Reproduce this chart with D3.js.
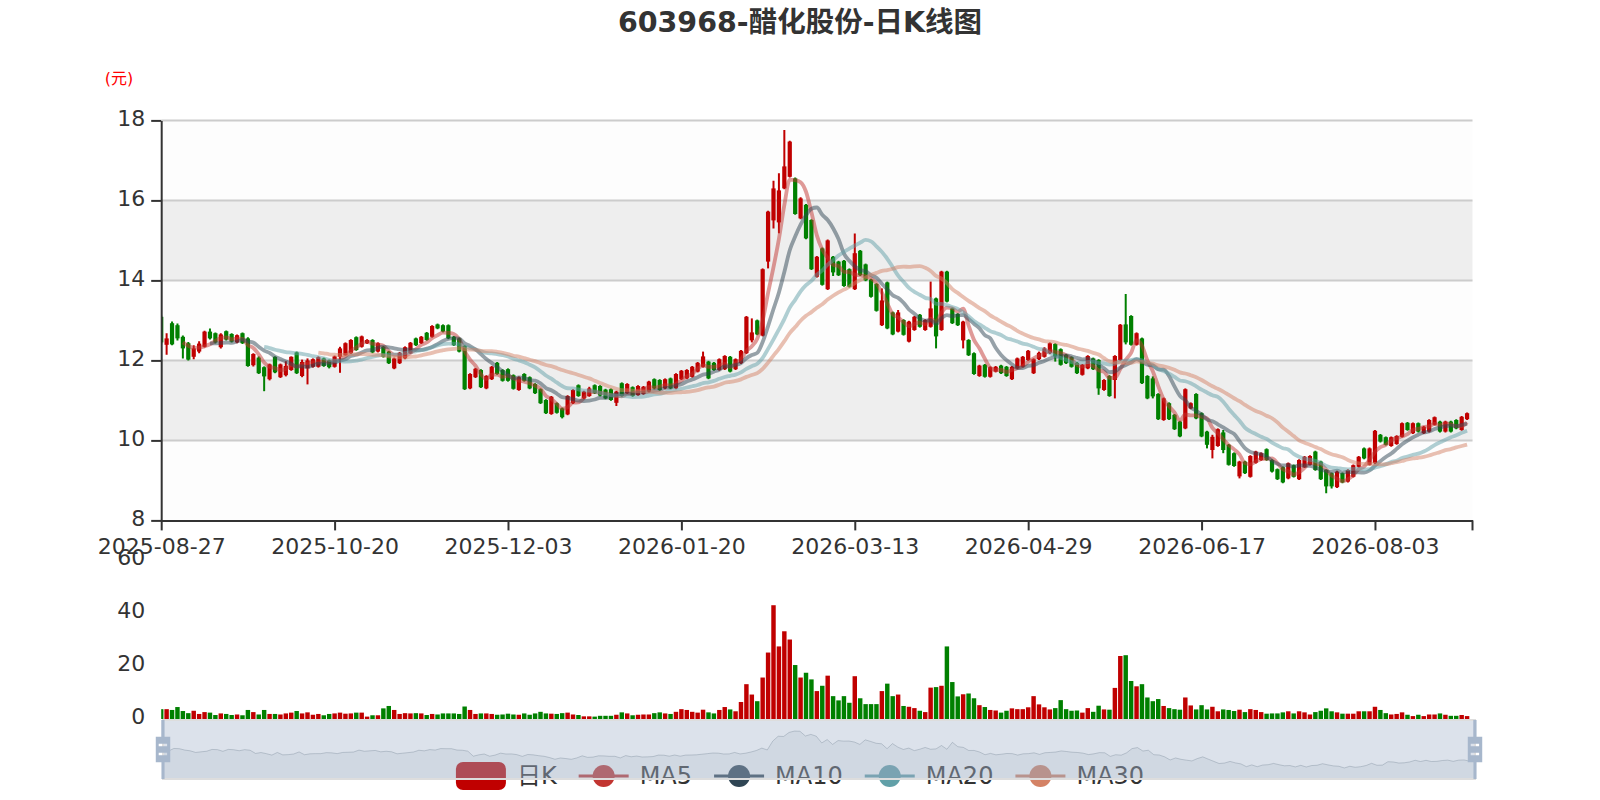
<!DOCTYPE html>
<html><head><meta charset="utf-8">
<script src="https://cdn.jsdelivr.net/npm/d3@7"></script>
<style>
body{margin:0;background:#fff;}
svg{display:block;}
text{font-family:"DejaVu Sans","Noto Sans CJK SC",sans-serif;}
</style>
</head><body>
<svg id="c" width="1600" height="800"></svg>
<script>
const titleText = '603968-醋化股份-日K线图';
const unitText = '(元)';
const dates = [
'2025-08-27','2025-08-28','2025-08-29',
'2025-09-01','2025-09-02','2025-09-03','2025-09-04','2025-09-05',
'2025-09-08','2025-09-09','2025-09-10','2025-09-11','2025-09-12',
'2025-09-15','2025-09-16','2025-09-17','2025-09-18','2025-09-19',
'2025-09-22','2025-09-23','2025-09-24','2025-09-25','2025-09-26',
'2025-09-29','2025-09-30',
'2025-10-09','2025-10-10',
'2025-10-13','2025-10-14','2025-10-15','2025-10-16','2025-10-17',
'2025-10-20','2025-10-21','2025-10-22','2025-10-23','2025-10-24',
'2025-10-27','2025-10-28','2025-10-29','2025-10-30','2025-10-31',
'2025-11-03','2025-11-04','2025-11-05','2025-11-06','2025-11-07',
'2025-11-10','2025-11-11','2025-11-12','2025-11-13','2025-11-14',
'2025-11-17','2025-11-18','2025-11-19','2025-11-20','2025-11-21',
'2025-11-24','2025-11-25','2025-11-26','2025-11-27','2025-11-28',
'2025-12-01','2025-12-02','2025-12-03','2025-12-04','2025-12-05',
'2025-12-08','2025-12-09','2025-12-10','2025-12-11','2025-12-12',
'2025-12-15','2025-12-16','2025-12-17','2025-12-18','2025-12-19',
'2025-12-22','2025-12-23','2025-12-24','2025-12-25','2025-12-26',
'2025-12-29','2025-12-30','2025-12-31',
'2026-01-05','2026-01-06','2026-01-07','2026-01-08','2026-01-09',
'2026-01-12','2026-01-13','2026-01-14','2026-01-15','2026-01-16',
'2026-01-19','2026-01-20','2026-01-21','2026-01-22','2026-01-23',
'2026-01-26','2026-01-27','2026-01-28','2026-01-29','2026-01-30',
'2026-02-02','2026-02-03','2026-02-04','2026-02-05','2026-02-06',
'2026-02-09','2026-02-10','2026-02-11','2026-02-12','2026-02-13',
'2026-02-24','2026-02-25','2026-02-26','2026-02-27',
'2026-03-02','2026-03-03','2026-03-04','2026-03-05','2026-03-06',
'2026-03-09','2026-03-10','2026-03-11','2026-03-12','2026-03-13',
'2026-03-16','2026-03-17','2026-03-18','2026-03-19','2026-03-20',
'2026-03-23','2026-03-24','2026-03-25','2026-03-26','2026-03-27',
'2026-03-30','2026-03-31',
'2026-04-01','2026-04-02','2026-04-03',
'2026-04-07','2026-04-08','2026-04-09','2026-04-10',
'2026-04-13','2026-04-14','2026-04-15','2026-04-16','2026-04-17',
'2026-04-20','2026-04-21','2026-04-22','2026-04-23','2026-04-24',
'2026-04-27','2026-04-28','2026-04-29','2026-04-30',
'2026-05-06','2026-05-07','2026-05-08',
'2026-05-11','2026-05-12','2026-05-13','2026-05-14','2026-05-15',
'2026-05-18','2026-05-19','2026-05-20','2026-05-21','2026-05-22',
'2026-05-25','2026-05-26','2026-05-27','2026-05-28','2026-05-29',
'2026-06-01','2026-06-02','2026-06-03','2026-06-04','2026-06-05',
'2026-06-08','2026-06-09','2026-06-10','2026-06-11','2026-06-12',
'2026-06-15','2026-06-16','2026-06-17','2026-06-18',
'2026-06-22','2026-06-23','2026-06-24','2026-06-25','2026-06-26',
'2026-06-29','2026-06-30',
'2026-07-01','2026-07-02','2026-07-03',
'2026-07-06','2026-07-07','2026-07-08','2026-07-09','2026-07-10',
'2026-07-13','2026-07-14','2026-07-15','2026-07-16','2026-07-17',
'2026-07-20','2026-07-21','2026-07-22','2026-07-23','2026-07-24',
'2026-07-27','2026-07-28','2026-07-29','2026-07-30','2026-07-31',
'2026-08-03','2026-08-04','2026-08-05','2026-08-06','2026-08-07',
'2026-08-10','2026-08-11','2026-08-12','2026-08-13','2026-08-14',
'2026-08-17','2026-08-18','2026-08-19','2026-08-20','2026-08-21',
'2026-08-24','2026-08-25','2026-08-26','2026-08-27'
];
const openP = [
13.09,12.39,12.93,12.88,12.59,12.43,12.09,12.22,12.34,12.72,
12.68,12.33,12.73,12.66,12.45,12.68,12.55,11.88,12.07,11.83,
11.53,12.09,11.58,11.63,11.76,12.20,11.61,11.80,11.84,11.84,
12.05,12.00,11.84,12.09,12.13,12.18,12.58,12.34,12.43,12.51,
12.22,12.34,12.22,11.80,11.93,12.05,12.18,12.55,12.43,12.69,
12.59,12.90,12.88,12.88,12.59,12.55,12.36,11.30,11.58,11.76,
11.30,11.53,11.94,11.76,11.78,11.63,11.26,11.66,11.58,11.41,
11.28,11.01,10.66,10.93,10.80,10.65,10.93,11.38,11.05,11.11,
11.38,11.36,11.27,11.28,10.94,11.43,11.18,11.33,11.13,11.16,
11.22,11.53,11.51,11.30,11.55,11.30,11.53,11.55,11.59,11.72,
11.84,11.97,11.94,11.76,11.78,12.09,11.78,11.93,12.18,12.50,
13.00,12.62,14.47,15.50,15.45,16.30,16.59,16.55,15.55,15.89,
15.51,14.09,14.80,13.78,14.59,14.47,14.49,14.28,13.78,14.74,
14.40,14.02,13.91,12.88,13.95,13.20,12.72,13.01,12.47,12.76,
13.14,12.76,12.84,13.55,12.76,14.22,13.30,13.16,12.50,12.51,
12.18,11.61,11.89,11.59,11.72,11.87,11.84,11.53,11.80,11.84,
12.01,11.68,12.03,12.09,12.18,12.41,12.28,12.14,12.08,11.94,
11.64,11.80,12.05,12.01,11.26,11.61,11.51,12.01,12.90,13.11,
12.39,12.55,11.61,11.55,11.16,10.51,10.93,10.64,10.47,10.30,
10.80,11.16,10.68,10.22,9.76,9.86,10.20,9.89,9.68,9.10,
9.47,9.09,9.44,9.51,9.78,9.51,9.28,9.33,9.05,9.38,
9.03,9.33,9.39,9.72,9.47,9.26,9.18,8.83,9.18,8.97,
9.09,9.34,9.80,9.39,9.43,10.14,10.08,9.86,9.91,10.09,
10.44,10.18,10.43,10.18,10.22,10.39,10.47,10.22,10.47,10.51,
10.26,10.53
];
const closeP = [
12.45,12.55,12.40,12.55,12.30,12.02,12.30,12.42,12.72,12.55,
12.45,12.65,12.52,12.47,12.63,12.43,11.86,12.16,11.68,11.60,
11.90,11.70,11.90,11.86,12.09,11.68,11.96,12.00,12.03,12.08,
11.86,11.83,12.10,12.30,12.43,12.51,12.26,12.60,12.51,12.20,
12.43,12.09,11.93,12.05,12.19,12.33,12.44,12.38,12.59,12.51,
12.86,12.80,12.72,12.55,12.38,12.22,11.28,11.66,11.79,11.33,
11.61,11.84,11.66,11.49,11.49,11.29,11.58,11.49,11.30,11.18,
10.93,10.68,11.09,10.69,10.58,11.11,11.26,11.11,11.22,11.30,
11.18,11.12,11.05,11.01,11.22,11.11,11.41,11.11,11.36,11.34,
11.47,11.30,11.26,11.53,11.30,11.66,11.74,11.76,11.84,11.94,
12.10,11.55,11.76,12.03,12.11,11.72,12.03,12.24,13.09,12.70,
12.65,14.28,15.72,16.30,16.25,16.85,17.47,15.66,16.05,15.05,
14.28,14.59,13.89,15.00,14.20,14.13,13.86,13.84,14.68,14.13,
14.00,13.59,13.24,13.50,12.80,12.65,13.20,12.64,12.97,13.09,
12.84,13.01,13.30,12.60,14.22,13.47,12.93,12.88,12.97,12.13,
11.66,11.87,11.59,11.83,11.84,11.68,11.61,11.84,12.05,12.09,
12.24,12.03,12.19,12.30,12.43,12.10,11.89,11.93,11.84,11.68,
11.89,12.11,11.78,11.30,11.51,11.11,12.11,12.89,12.45,12.39,
12.68,11.43,11.05,11.10,10.53,11.05,10.53,10.28,10.10,11.28,
10.93,10.55,10.10,9.89,10.09,10.28,9.76,9.39,9.36,9.47,
9.18,9.61,9.72,9.68,9.51,9.22,9.03,8.95,9.43,9.09,
9.51,9.59,9.61,9.26,9.03,8.85,8.85,9.22,8.95,9.26,
9.38,9.59,9.55,9.80,10.24,9.97,9.89,10.08,10.11,10.43,
10.26,10.43,10.22,10.34,10.51,10.58,10.22,10.47,10.22,10.30,
10.59,10.68
];
const lowP = [
12.40,12.14,12.38,12.50,12.05,12.00,12.03,12.18,12.32,12.52,
12.42,12.30,12.50,12.45,12.43,12.41,11.84,11.85,11.66,11.23,
11.50,11.68,11.56,11.60,11.74,11.66,11.58,11.40,11.82,11.82,
11.84,11.80,11.82,11.69,12.12,12.16,12.24,12.32,12.41,12.18,
12.20,12.07,11.91,11.78,11.91,12.03,12.16,12.36,12.41,12.49,
12.57,12.78,12.70,12.53,12.36,12.20,11.26,11.28,11.56,11.31,
11.28,11.51,11.64,11.47,11.47,11.27,11.24,11.47,11.28,11.16,
10.91,10.66,10.64,10.67,10.55,10.63,10.91,11.09,11.03,11.09,
11.16,11.10,11.03,10.99,10.86,11.09,11.16,11.09,11.11,11.14,
11.20,11.28,11.24,11.28,11.28,11.28,11.51,11.53,11.57,11.70,
11.82,11.53,11.74,11.74,11.76,11.70,11.76,11.91,12.16,12.45,
12.63,12.60,14.30,15.30,15.18,16.28,16.57,15.64,15.53,15.03,
14.26,14.07,13.87,13.76,14.11,14.11,13.84,13.82,13.76,14.11,
13.98,13.57,13.22,12.86,12.78,12.63,12.70,12.62,12.45,12.74,
12.82,12.74,12.82,12.30,12.74,13.45,12.91,12.86,12.30,12.11,
11.64,11.59,11.57,11.57,11.70,11.66,11.59,11.51,11.78,11.82,
11.99,11.66,12.01,12.07,12.16,11.97,11.87,11.91,11.82,11.66,
11.62,11.78,11.76,11.14,11.24,11.09,11.05,11.99,12.40,12.37,
12.37,11.41,11.03,11.05,10.51,10.49,10.51,10.26,10.08,10.28,
10.78,10.53,10.08,9.80,9.55,9.84,9.68,9.37,9.34,9.05,
9.16,9.07,9.42,9.49,9.49,9.20,9.01,8.93,9.03,9.07,
9.01,9.31,9.37,9.24,9.01,8.68,8.80,8.81,8.93,8.95,
9.07,9.32,9.53,9.37,9.41,9.95,9.87,9.84,9.89,10.07,
10.24,10.16,10.20,10.16,10.20,10.37,10.20,10.20,10.20,10.28,
10.24,10.51
];
const highP = [
13.12,12.68,12.97,12.92,12.62,12.46,12.38,12.48,12.74,12.80,
12.70,12.68,12.75,12.68,12.65,12.70,12.58,12.18,12.10,11.85,
11.92,12.10,11.92,11.98,12.10,12.22,12.02,12.05,12.05,12.10,
12.07,12.02,12.12,12.34,12.45,12.53,12.60,12.62,12.53,12.53,
12.45,12.36,12.24,12.07,12.21,12.35,12.46,12.57,12.61,12.71,
12.88,12.92,12.90,12.90,12.61,12.57,12.38,11.68,11.81,11.78,
11.63,11.86,11.96,11.78,11.80,11.65,11.60,11.68,11.60,11.43,
11.30,11.03,11.11,10.95,10.82,11.13,11.28,11.40,11.24,11.34,
11.40,11.38,11.29,11.30,11.24,11.45,11.43,11.35,11.38,11.36,
11.49,11.55,11.53,11.55,11.57,11.68,11.76,11.78,11.86,11.96,
12.22,11.99,11.96,12.05,12.13,12.11,12.05,12.26,13.11,13.05,
13.02,14.30,15.74,16.49,16.68,17.76,17.49,16.57,16.08,15.91,
15.53,14.61,14.82,15.02,14.61,14.49,14.51,14.30,15.17,14.76,
14.42,14.04,13.93,13.80,13.97,13.22,13.26,13.03,12.99,13.11,
13.16,13.03,13.97,13.57,14.24,14.24,13.32,13.18,12.99,12.53,
12.20,11.89,11.91,11.85,11.86,11.89,11.86,11.86,12.07,12.11,
12.26,12.05,12.22,12.33,12.45,12.43,12.30,12.16,12.10,11.96,
11.91,12.13,12.07,12.03,11.53,11.63,12.13,12.91,13.66,13.13,
12.70,12.57,11.63,11.60,11.18,11.07,10.95,10.66,10.49,11.30,
10.95,11.18,10.70,10.24,10.14,10.30,10.26,9.91,9.70,9.49,
9.49,9.63,9.74,9.70,9.80,9.53,9.30,9.35,9.45,9.40,
9.53,9.61,9.63,9.74,9.49,9.28,9.20,9.24,9.20,9.28,
9.40,9.61,9.82,9.82,10.26,10.16,10.10,10.10,10.13,10.45,
10.46,10.45,10.45,10.36,10.53,10.60,10.49,10.49,10.49,10.53,
10.61,10.70
];
const volume = [
3.7,3.7,3.4,4.5,3.0,2.2,3.1,1.9,2.6,2.4,
1.5,2.1,1.9,1.5,1.7,1.4,3.4,2.6,1.7,3.4,
1.9,1.9,1.7,2.1,2.4,3.0,2.1,2.5,1.6,1.9,
1.4,1.9,2.1,2.4,2.0,2.1,2.4,2.4,0.9,1.4,
1.4,4.0,4.9,3.4,1.9,2.2,2.1,2.2,2.1,1.5,
1.9,1.7,2.1,2.1,2.1,1.9,4.7,3.4,1.9,2.1,
2.1,1.9,1.6,1.7,2.0,1.7,1.6,2.1,1.6,2.1,
2.7,2.1,2.0,1.9,2.2,2.4,1.7,1.5,1.0,1.0,
0.9,1.2,1.2,1.2,1.6,2.5,2.1,1.4,1.6,1.7,
1.7,2.2,2.5,2.1,1.9,2.7,3.7,3.4,2.7,2.4,
3.5,2.5,2.1,3.4,4.5,3.6,2.9,6.4,13.1,9.2,
6.7,15.6,25.0,42.8,27.3,33.0,29.9,20.3,15.6,17.4,
14.9,10.5,12.5,16.3,8.6,7.0,8.6,6.1,16.1,7.8,
5.6,5.6,5.6,10.5,13.3,8.6,9.2,4.9,4.6,4.1,
3.1,2.6,11.8,12.0,12.5,27.3,13.9,8.5,9.3,9.6,
7.8,5.2,4.5,3.4,3.2,2.4,3.1,4.0,3.7,3.7,
4.4,8.6,5.5,4.4,3.6,4.1,7.1,3.7,3.1,3.2,
2.4,4.1,2.7,5.0,3.6,3.5,11.7,23.7,24.0,14.3,
12.3,13.1,8.1,6.7,7.5,4.9,4.1,3.7,3.5,8.1,
5.1,3.6,5.2,3.6,4.6,2.9,3.6,3.4,3.0,3.5,
2.6,3.7,3.4,2.6,2.0,2.1,2.1,2.5,2.9,2.1,
2.9,2.5,1.7,2.6,3.1,4.0,2.9,2.5,2.0,2.0,
2.0,2.9,2.9,2.9,4.6,3.4,2.2,1.7,1.9,2.5,
1.6,1.1,1.6,1.1,1.7,1.7,2.1,1.6,1.2,1.2,
1.5,1.1
];
const priceTicks = [8, 10, 12, 14, 16, 18];
const volumeTicks = [0, 20, 40, 60];
const labelIndex = [0, 32, 64, 96, 128, 160, 192, 224];
const maDays = [5, 10, 20, 30];
const maNames = ['MA5', 'MA10', 'MA20', 'MA30'];
const seriesName = '日K';

// ---------- styles / layout ----------
const upColor = '#c00000', downColor = '#008000';
const maColors = ['#c23531', '#2f4554', '#61a0a8', '#d48265'];
const FONT = '"DejaVu Sans","Noto Sans CJK SC",sans-serif';
const P = {l: 161.2, r: 1472.5, t: 120.4, b: 520.4};
const V = {t: 559.5, b: 719};
const S = {x0: 163, x1: 1475, y0: 720, h: 59};

const svg = d3.select('#c');
svg.append('rect').attr('width', 1600).attr('height', 800).attr('fill', '#fff');

const defs = svg.append('defs');
defs.append('clipPath').attr('id', 'clipP').append('rect')
  .attr('x', P.l).attr('y', P.t - 20).attr('width', P.r - P.l).attr('height', P.b - P.t + 20);
defs.append('clipPath').attr('id', 'clipV').append('rect')
  .attr('x', P.l).attr('y', V.t - 5).attr('width', P.r - P.l).attr('height', V.b - V.t + 5);

const x = d3.scalePoint().domain(dates).range([P.l, P.r]);
const y = d3.scaleLinear().domain([8, 18]).range([P.b, P.t]);
const yv = d3.scaleLinear().domain([0, 60]).range([V.b, V.t]);
const step = x.step();

// title
svg.append('text').attr('x', 800).attr('y', 22).attr('text-anchor', 'middle')
  .attr('dominant-baseline', 'central').attr('font-size', 28.5).attr('font-weight', 'bold')
  .attr('fill', '#333').text(titleText);
svg.append('text').attr('x', 119).attr('y', 78.5).attr('text-anchor', 'middle')
  .attr('dominant-baseline', 'central').attr('font-size', 16).attr('fill', '#ff0000').text(unitText);

// split areas and lines
const bands = d3.pairs(priceTicks);
svg.append('g').selectAll('rect').data(bands).join('rect')
  .attr('x', P.l).attr('width', P.r - P.l)
  .attr('y', d => y(d[1])).attr('height', d => y(d[0]) - y(d[1]))
  .attr('fill', (d, i) => i % 2 === 0 ? 'rgba(250,250,250,0.3)' : 'rgba(200,200,200,0.3)');
svg.append('g').selectAll('line').data(priceTicks.slice(1)).join('line')
  .attr('x1', P.l).attr('x2', P.r).attr('y1', d => y(d)).attr('y2', d => y(d))
  .attr('stroke', '#ccc').attr('stroke-width', 2);

// candles
const idx = d3.range(openP.length);
const isUp = i => closeP[i] >= openP[i];
const cg = svg.append('g').attr('clip-path', 'url(#clipP)');
const bw = step * 0.78;
cg.selectAll('line.w').data(idx).join('line').attr('class', 'w')
  .attr('x1', i => x(dates[i])).attr('x2', i => x(dates[i]))
  .attr('y1', i => y(highP[i])).attr('y2', i => y(lowP[i]))
  .attr('stroke', i => isUp(i) ? upColor : downColor).attr('stroke-width', 2);
cg.selectAll('rect.b').data(idx).join('rect').attr('class', 'b')
  .attr('x', i => x(dates[i]) - bw / 2).attr('width', bw)
  .attr('y', i => y(Math.max(openP[i], closeP[i])))
  .attr('height', i => Math.max(1.5, Math.abs(y(openP[i]) - y(closeP[i]))))
  .attr('fill', i => isUp(i) ? upColor : downColor);

// moving averages
function movingAverage(n) {
  return closeP.map((c, i) => i < n - 1 ? null : d3.mean(closeP.slice(i - n + 1, i + 1)));
}
const maData = maDays.map(movingAverage);
const lineGen = d3.line().defined(d => d != null)
  .x((d, i) => x(dates[i])).y(d => y(d)).curve(d3.curveMonotoneX);
cg.selectAll('path.ma').data(maData).join('path').attr('class', 'ma')
  .attr('d', lineGen).attr('fill', 'none')
  .attr('stroke', (d, k) => maColors[k]).attr('stroke-width', 3.8)
  .attr('stroke-opacity', 0.5).attr('stroke-linejoin', 'round');

// axes
const yAxis = svg.append('g').attr('transform', `translate(${P.l},0)`)
  .call(d3.axisLeft(y).tickValues(priceTicks).tickSize(10).tickSizeOuter(0).tickPadding(6));
const xAxis = svg.append('g').attr('transform', `translate(0,${P.b})`)
  .call(d3.axisBottom(x).tickValues(labelIndex.map(i => dates[i])).tickSize(10).tickSizeOuter(0).tickPadding(8));
xAxis.append('line').attr('x1', P.r).attr('x2', P.r).attr('y1', 0).attr('y2', 10)
  .attr('stroke', '#333').attr('stroke-width', 2);
[yAxis, xAxis].forEach(g => {
  g.select('.domain').attr('stroke', '#333').attr('stroke-width', 2);
  g.selectAll('.tick line').attr('stroke', '#333').attr('stroke-width', 2);
  g.selectAll('.tick text').attr('font-size', 22).attr('fill', '#333').attr('font-family', FONT);
});
yAxis.selectAll('.tick text').attr('dy', '0.22em');

// volume
const vg = svg.append('g').attr('clip-path', 'url(#clipV)');
const vw = step * 0.82;
vg.selectAll('rect').data(idx).join('rect')
  .attr('x', i => x(dates[i]) - vw / 2).attr('width', vw)
  .attr('y', i => yv(volume[i])).attr('height', i => yv(0) - yv(volume[i]))
  .attr('fill', i => isUp(i) ? upColor : downColor);
const vAxis = svg.append('g').attr('transform', `translate(${P.l},0)`)
  .call(d3.axisLeft(yv).tickValues(volumeTicks).tickSize(0).tickPadding(16));
vAxis.select('.domain').remove();
vAxis.selectAll('.tick text').attr('font-size', 22).attr('fill', '#333').attr('font-family', FONT).attr('dy', '0.22em');

// legend (drawn under the slider)
const legendItems = [{name: seriesName, color: upColor, kind: 'rect'}]
  .concat(maNames.map((n, k) => ({name: n, color: maColors[k], kind: 'line'})));
const lg = svg.append('g');
const itemW = 50, itemH = 28, textGap = 11, itemGap = 22, ly = 776;
const widths = legendItems.map(it => {
  const t = lg.append('text').attr('font-size', 24).text(it.name);
  const w = t.node().getComputedTextLength(); t.remove(); return w;
});
const total = d3.sum(widths) + legendItems.length * (itemW + textGap) + itemGap * (legendItems.length - 1);
let lx = 800 - total / 2;
legendItems.forEach((it, k) => {
  if (it.kind === 'rect') {
    lg.append('rect').attr('x', lx).attr('y', ly - itemH / 2).attr('width', itemW).attr('height', itemH)
      .attr('rx', 7).attr('fill', it.color);
  } else {
    lg.append('line').attr('x1', lx).attr('x2', lx + itemW).attr('y1', ly).attr('y2', ly)
      .attr('stroke', it.color).attr('stroke-width', 3);
    lg.append('circle').attr('cx', lx + itemW / 2).attr('cy', ly).attr('r', 11).attr('fill', it.color);
  }
  lg.append('text').attr('x', lx + itemW + textGap).attr('y', ly).attr('dominant-baseline', 'central')
    .attr('font-size', 24).attr('fill', '#333').text(it.name);
  lx += itemW + textGap + widths[k] + itemGap;
});

// dataZoom slider
const sg = svg.append('g');
const n = openP.length;
const ext = d3.extent(openP);
const pad = (ext[1] - ext[0]) * 0.3;
const sx = d3.scaleLinear().domain([0, n - 1]).range([S.x0, S.x1]);
const sy = d3.scaleLinear().domain([ext[0] - pad, ext[1] + pad]).range([S.y0 + S.h, S.y0]);
const area = d3.area().x((d, i) => sx(i)).y0(S.y0 + S.h).y1(d => sy(d));
const sline = d3.line().x((d, i) => sx(i)).y(d => sy(d));
sg.append('path').attr('d', area(openP)).attr('fill', 'rgba(47,69,84,0.3)').attr('fill-opacity', 0.3);
sg.append('path').attr('d', sline(openP)).attr('fill', 'none').attr('stroke', '#2f4554')
  .attr('stroke-opacity', 0.3).attr('stroke-width', 1);
sg.append('rect').attr('x', S.x0).attr('y', S.y0).attr('width', S.x1 - S.x0).attr('height', S.h)
  .attr('fill', 'rgba(167,183,204,0.4)');
sg.append('rect').attr('x', S.x0).attr('y', S.y0).attr('width', S.x1 - S.x0).attr('height', S.h)
  .attr('fill', 'none').attr('stroke', '#ddd').attr('stroke-width', 2);
const handlePath = 'M8.2,13.6V3.9H6.3v9.7H3.1v14.9h3.3v9.7h1.8v-9.7h3.3V13.6H8.2z M9.7,24.4H4.8v-1.4h4.9V24.4z M9.7,19.1H4.8v-1.4h4.9V19.1z';
const hs = S.h / 34.3;
[S.x0, S.x1].forEach(hx => {
  sg.append('path').attr('d', handlePath).attr('fill', '#a7b7cc').attr('fill-rule', 'evenodd')
    .attr('transform', `translate(${hx - 7.3 * hs},${S.y0 + S.h / 2 - 21.05 * hs}) scale(${hs})`);
});
</script>
</body></html>
